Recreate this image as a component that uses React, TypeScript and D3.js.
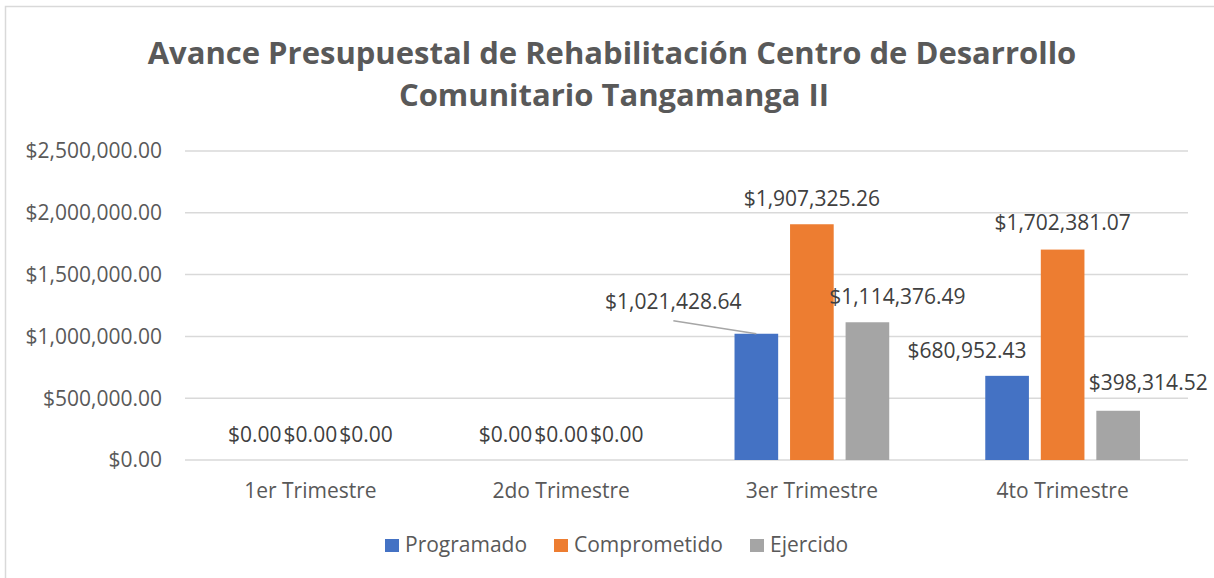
import React from "react";
import * as d3 from "d3";

// chart values
const categories = ["1er Trimestre", "2do Trimestre", "3er Trimestre", "4to Trimestre"];
const seriesNames = ["Programado", "Comprometido", "Ejercido"];
const programado = [0, 0, 1021428.64, 680952.43];
const comprometido = [0, 0, 1907325.26, 1702381.07];
const ejercido = [0, 0, 1114376.49, 398314.52];
const yTicks = [0, 500000, 1000000, 1500000, 2000000, 2500000];

const colours = ["#4472C4", "#ED7D31", "#A5A5A5"];
const textColour = "#595959";
const gridColour = "#D9D9D9";
const font = "'Open Sans', sans-serif";
const fs = 21;

const width = 1214;
const height = 578;
const plot = { left: 185, right: 1188, top: 151, bottom: 460 };

// labels that Excel moved off the default outside-end position
// key: series-category, value: [dx, dy] relative to default spot, leader line flag
const labelNudges: Record<string, [number, number, boolean]> = {
  "0-2": [-83, -7, true],
  "2-2": [30, 0, false],
  "0-3": [-40, 0, false],
  "2-3": [30, -3, false],
  "1-3": [0, -2, false],
};

const money = d3.format("$,.2f");

export default function App() {
  const series = [programado, comprometido, ejercido];

  const x0 = d3
    .scaleBand<string>()
    .domain(categories)
    .range([plot.left, plot.right])
    .paddingInner(0.383)
    .paddingOuter(0.1915);

  const x1 = d3
    .scaleBand<number>()
    .domain([0, 1, 2])
    .range([0, x0.bandwidth()])
    .paddingInner(0.214);

  const y = d3.scaleLinear().domain([0, 2500000]).range([plot.bottom, plot.top]);

  const legendX = [385, 554, 750];

  return (
    <svg
      width={width}
      height={height}
      style={{ position: "absolute", left: 0, top: 0, background: "#fff" }}
      fontFamily={font}
    >
      <rect x={5.5} y={6.5} width={1400} height={800} fill="#fff" stroke={gridColour} strokeWidth={1.5} />

      {/* title */}
      <text x={612} y={64} textAnchor="middle" fontSize={31} fontWeight="bold" fill={textColour}>
        Avance Presupuestal de Rehabilitación Centro de Desarrollo
      </text>
      <text x={614} y={106} textAnchor="middle" fontSize={31} fontWeight="bold" fill={textColour}>
        Comunitario Tangamanga II
      </text>

      {/* gridlines + y labels */}
      {yTicks.map((t) => (
        <g key={t}>
          <line x1={plot.left} x2={plot.right} y1={y(t)} y2={y(t)} stroke={gridColour} strokeWidth={1.5} />
          <text x={162} y={y(t)} dy="0.35em" textAnchor="end" fontSize={fs} fill={textColour}>
            {money(t)}
          </text>
        </g>
      ))}

      {/* bars */}
      {series.map((vals, s) =>
        vals.map((v, c) => {
          const bx = (x0(categories[c]) as number) + (x1(s) as number);
          return (
            <rect
              key={`b${s}-${c}`}
              x={bx}
              y={y(v)}
              width={x1.bandwidth()}
              height={y(0) - y(v)}
              fill={colours[s]}
            />
          );
        })
      )}

      {/* data labels */}
      {series.map((vals, s) =>
        vals.map((v, c) => {
          const cx = (x0(categories[c]) as number) + (x1(s) as number) + x1.bandwidth() / 2;
          const nudge = labelNudges[`${s}-${c}`] || [0, 0, false];
          const lx = cx + nudge[0];
          const ly = y(v) - 18 + nudge[1];
          return (
            <g key={`l${s}-${c}`}>
              {nudge[2] && (
                <line x1={lx} y1={ly + 12} x2={cx} y2={y(v)} stroke="#A6A6A6" strokeWidth={1.5} />
              )}
              <text x={lx} y={ly} textAnchor="middle" fontSize={fs} fill="#404040">
                {money(v)}
              </text>
            </g>
          );
        })
      )}

      {/* category labels */}
      {categories.map((c) => (
        <text
          key={c}
          x={(x0(c) as number) + x0.bandwidth() / 2}
          y={498}
          textAnchor="middle"
          fontSize={fs}
          fill={textColour}
        >
          {c}
        </text>
      ))}

      {/* legend */}
      {seriesNames.map((n, i) => (
        <g key={n} transform={`translate(${legendX[i]},0)`}>
          <rect x={0} y={539} width={14} height={13} fill={colours[i]} />
          <text x={20} y={552} fontSize={fs} fill={textColour}>
            {n}
          </text>
        </g>
      ))}
    </svg>
  );
}
